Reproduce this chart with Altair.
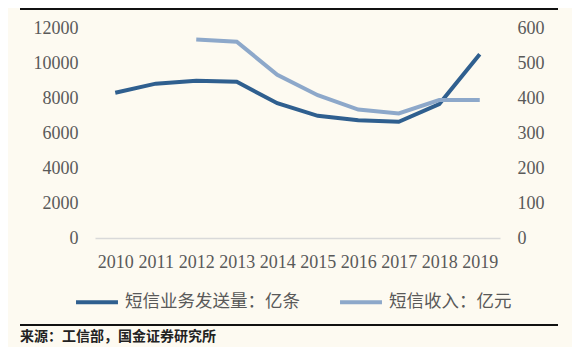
import altair as alt
import pandas as pd

years = ["2010", "2011", "2012", "2013", "2014", "2015", "2016", "2017", "2018", "2019"]
volume = [8300, 8820, 8980, 8930, 7700, 6980, 6730, 6640, 7650, 10500]
rev_years = ["2012", "2013", "2014", "2015", "2016", "2017", "2018", "2019"]
revenue = [567, 561, 466, 408, 367, 356, 394, 394]

s1 = "短信业务发送量：亿条"
s2 = "短信收入：亿元"
c1 = "#2F5F8F"
c2 = "#8DA8CA"
source = "来源：工信部，国金证券研究所"

df_vol = pd.DataFrame({"year": years, "value": volume, "series": s1})
df_rev = pd.DataFrame({"year": rev_years, "value": revenue, "series": s2})

OX, OY = 95, 28  # plot origin on page
W, H = 405, 210

xenc = alt.X("year:O", sort=years, title=None,
             scale=alt.Scale(padding=0.5),
             axis=alt.Axis(labelAngle=0, ticks=False, domainColor="#D9D9D9", domainWidth=1.5,
                           labelFont="Liberation Serif", labelFontSize=18, labelColor="#595959",
                           labelPadding=15, grid=False))

color = alt.Color("series:N",
                  scale=alt.Scale(domain=[s1, s2], range=[c1, c2]),
                  legend=alt.Legend(title=None, orient="none", direction="horizontal",
                                    legendX=74 - OX, legendY=279 - OY,
                                    symbolType="stroke", symbolSize=1760, symbolStrokeWidth=4,
                                    labelFont="Noto Sans CJK SC", labelFontSize=17.5,
                                    labelColor="#595959", labelOffset=5, columnPadding=32,
                                    labelLimit=400))

yaxis_common = dict(ticks=False, domain=False, grid=False, labelFont="Liberation Serif",
                    labelFontSize=18, labelColor="#595959", labelPadding=17, format="d")

line_vol = alt.Chart(df_vol).mark_line(strokeWidth=4).encode(
    x=xenc,
    y=alt.Y("value:Q", title=None, scale=alt.Scale(domain=[0, 12000]),
            axis=alt.Axis(values=[0, 2000, 4000, 6000, 8000, 10000, 12000], orient="left",
                          **yaxis_common)),
    color=color,
)

line_rev = alt.Chart(df_rev).mark_line(strokeWidth=4).encode(
    x=xenc,
    y=alt.Y("value:Q", title=None, scale=alt.Scale(domain=[0, 600]),
            axis=alt.Axis(values=[0, 100, 200, 300, 400, 500, 600], orient="right",
                          **yaxis_common)),
    color=color,
)

dummy = alt.Chart(pd.DataFrame({"a": [0]}))

top_rule = dummy.mark_rule(color="#111111", strokeWidth=2).encode(
    x=alt.value(20 - OX), x2=alt.value(558 - OX), y=alt.value(9 - OY))
bottom_rule = dummy.mark_rule(color="#111111", strokeWidth=2).encode(
    x=alt.value(20 - OX), x2=alt.value(558 - OX), y=alt.value(325 - OY))
src_text = dummy.mark_text(align="left", baseline="middle", font="Noto Sans CJK SC",
                           fontSize=14, fontWeight="bold", color="#222222").encode(
    x=alt.value(20 - OX), y=alt.value(337 - OY), text=alt.value(source))

lines = alt.layer(line_vol, line_rev).resolve_scale(y="independent")

chart = alt.layer(lines, top_rule, bottom_rule, src_text).properties(
    width=W, height=H,
    autosize=alt.AutoSizeParams(type="none"),
    padding={"left": OX - 8, "top": OY - 8, "right": 564 - (OX - 8) - W, "bottom": 339 - (OY - 8) - H},
    background="#FDFAF1",
).configure_view(stroke=None)

chart.save("out.html", embed_options={"renderer": "svg", "actions": False})
